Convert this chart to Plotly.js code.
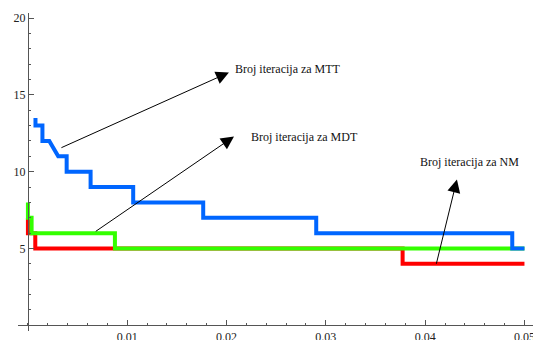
<!DOCTYPE html>
<html>
<head>
<meta charset="utf-8">
<script src="https://cdn.plot.ly/plotly-3.0.1.min.js"></script>
<style>html,body{margin:0;padding:0;background:#fff}#chart{width:533px;height:340px}</style>
</head>
<body>
<div id="chart"></div>
<script>
// Data (step curves: number of iterations vs epsilon)
var mttX = [0.00076, 0.00076, 0.00146, 0.00146, 0.00215, 0.00305, 0.0039, 0.0039, 0.00631, 0.00631, 0.0106, 0.0106, 0.01765, 0.01765, 0.02903, 0.02903, 0.04877, 0.04877, 0.0500];
var mttY = [13.5, 13, 13, 12, 12, 11, 11, 10, 10, 9, 9, 8, 8, 7, 7, 6, 6, 5, 5];
var mdtX = [0.0, 0.0, 0.00037, 0.00037, 0.00876, 0.00876, 0.0500];
var mdtY = [8, 7, 7, 6, 6, 5, 5];
var nmX  = [0.0, 0.0, 0.00074, 0.00074, 0.03773, 0.03773, 0.0500];
var nmY  = [7, 6, 6, 5, 5, 4, 4];

var xTickVals = [0.01, 0.02, 0.03, 0.04, 0.05];
var xTickText = ["0.01", "0.02", "0.03", "0.04", "0.05"];
var yTickVals = [5, 10, 15, 20];
var yTickText = ["5", "10", "15", "20"];

var labels = ["Broj iteracija za MTT", "Broj iteracija za MDT", "Broj iteracija za NM"];
var labelX = [0.02064, 0.02226, 0.0393];
var labelY = [16.67, 12.24, 10.65];
var arrowTailX = [0.00322, 0.00668, 0.04109];
var arrowTailY = [11.52, 6.05, 3.91];
var arrowHeadX = [0.02024, 0.02075, 0.0432];
var arrowHeadY = [16.46, 12.29, 9.49];

var xRange = [-0.001, 0.05086];
var yRange = [-0.37, 20.33];

var traces = [
  {x: nmX, y: nmY, mode: 'lines', line: {color: '#ff0000', width: 4}, hoverinfo: 'skip'},
  {x: mdtX, y: mdtY, mode: 'lines', line: {color: '#33ff00', width: 4}, hoverinfo: 'skip'},
  {x: mttX, y: mttY, mode: 'lines', line: {color: '#0066ff', width: 4}, hoverinfo: 'skip'}
];

var annotations = [];
for (var i = 0; i < labels.length; i++) {
  annotations.push({
    x: arrowHeadX[i], y: arrowHeadY[i], xref: 'x', yref: 'y',
    ax: arrowTailX[i], ay: arrowTailY[i], axref: 'x', ayref: 'y',
    text: '', showarrow: true, arrowhead: 2, arrowsize: 2.6, arrowwidth: 1,
    arrowcolor: '#000', standoff: 0, startstandoff: 0
  });
  annotations.push({
    x: labelX[i], y: labelY[i], xref: 'x', yref: 'y',
    text: labels[i], showarrow: false, xanchor: 'left', yanchor: 'middle',
    font: {family: 'Liberation Serif, serif', size: 12, color: '#111'}
  });
}

var axisColor = '#555';
var layout = {
  width: 533, height: 340,
  margin: {l: 18, r: 0, t: 13, b: 9, pad: 0},
  paper_bgcolor: '#fff', plot_bgcolor: '#fff',
  showlegend: false,
  font: {family: 'Liberation Serif, serif', size: 12, color: '#222'},
  xaxis: {
    range: xRange, anchor: 'free',
    position: (0 - yRange[0]) / (yRange[1] - yRange[0]),
    showgrid: false, zeroline: false,
    showline: true, linecolor: axisColor, linewidth: 1,
    tickmode: 'array', tickvals: xTickVals, ticktext: xTickText,
    ticks: 'inside', ticklen: 5, tickwidth: 1, tickcolor: axisColor,
    minor: {dtick: 0.002, tick0: 0, ticks: 'inside', ticklen: 2.5, tickwidth: 1, tickcolor: axisColor, showgrid: false},
    ticklabeloverflow: 'allow',
    tickfont: {family: 'Liberation Serif, serif', size: 12, color: '#222'}
  },
  yaxis: {
    range: yRange, anchor: 'free',
    position: (0 - xRange[0]) / (xRange[1] - xRange[0]),
    showgrid: false, zeroline: false,
    showline: true, linecolor: axisColor, linewidth: 1,
    tickmode: 'array', tickvals: yTickVals, ticktext: yTickText,
    ticks: 'inside', ticklen: 5, tickwidth: 1, tickcolor: axisColor,
    minor: {dtick: 1, tick0: 0, ticks: 'inside', ticklen: 2.5, tickwidth: 1, tickcolor: axisColor, showgrid: false},
    ticklabeloverflow: 'allow',
    tickfont: {family: 'Liberation Serif, serif', size: 12, color: '#222'}
  },
  annotations: annotations
};

Plotly.newPlot('chart', traces, layout, {staticPlot: true, displayModeBar: false});
</script>
</body>
</html>
